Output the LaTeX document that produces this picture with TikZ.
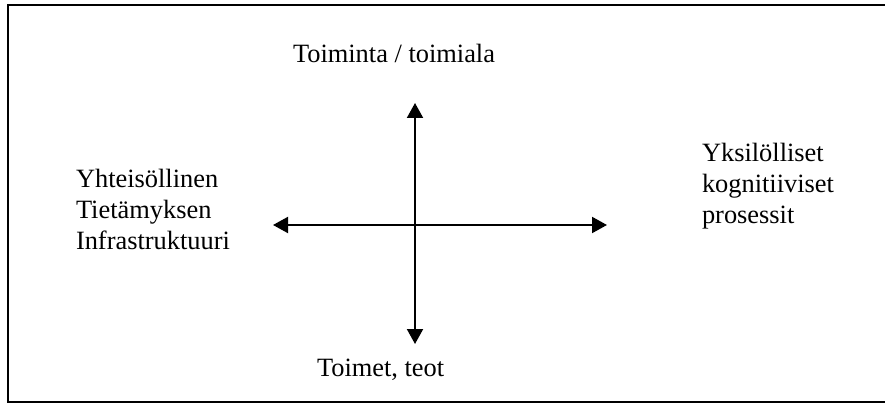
\documentclass[tikz,border=0pt]{standalone}
\usepackage{fontspec}
\setmainfont{Liberation Serif}
\usetikzlibrary{arrows.meta}
\begin{document}
\begin{tikzpicture}[x=1pt,y=-1pt,
  lbl/.style={inner sep=0pt, outer sep=0pt, align=left,
    font=\fontsize{26.4pt}{31pt}\selectfont},
  axis/.style={line width=2pt, {Triangle[length=15pt,width=16pt]}-{Triangle[length=15pt,width=16pt]}},
  frame/.style={line width=2pt}]
\useasboundingbox (0,0) rectangle (885,403);
\draw[frame] (885,5.5) -- (7.5,5.5) -- (7.5,401.5) -- (885,401.5);
\coordinate (top) at (415,103);
\coordinate (bot) at (415,344);
\coordinate (lft) at (273,225);
\coordinate (rgt) at (607,225);
\draw[axis] (bot) -- (top);
\draw[axis] (lft) -- (rgt);
\node[lbl, anchor=base west] (ttop) at (293,63) {Toiminta / toimiala};
\node[lbl, anchor=base west] (tbot) at (317,376) {Toimet, teot};
\node[lbl, anchor=base west] (tleft) at (76,249) {Yhteisöllinen\\Tietämyksen\\Infrastruktuuri};
\node[lbl, anchor=base west] (tright) at (702,224) {Yksilölliset\\kognitiiviset\\prosessit};
\end{tikzpicture}
\end{document}
